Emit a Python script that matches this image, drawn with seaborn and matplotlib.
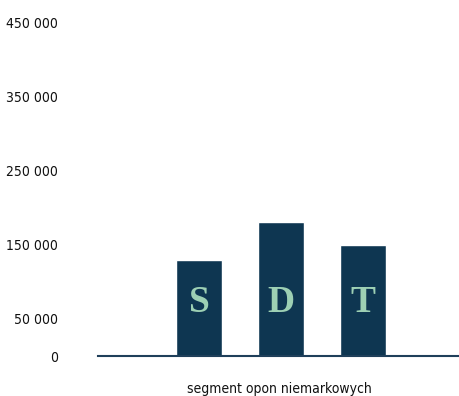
import matplotlib
matplotlib.use("Agg")
import matplotlib.pyplot as plt
import seaborn as sns
import pandas as pd

# chart data
segments = ["S", "D", "T"]
values = [130000, 180000, 150000]
y_ticks = [0, 50000, 150000, 250000, 350000, 450000]
y_labels = ["0", "50 000", "150 000", "250 000", "350 000", "450 000"]
x_title = "segment opon niemarkowych"

BAR = "#0e3651"
LETTER = "#9dd0b4"

sns.set_style("white")
plt.rcParams["font.family"] = ["DejaVu Sans"]
plt.rcParams["font.stretch"] = "condensed"

df = pd.DataFrame({"segment": segments, "value": values})

fig = plt.figure(figsize=(4.6, 3.96), dpi=100)
ax = fig.add_axes([98 / 460, 40 / 396, 362 / 460, 334 / 396])

sns.barplot(data=df, x="segment", y="value", color=BAR, width=0.56,
            saturation=1, ax=ax)

for i, s in enumerate(segments):
    ax.text(i, 72000, s, ha="center", va="center", color=LETTER,
            fontsize=27, fontweight="bold", family="Liberation Serif",
            fontstretch="normal")

ax.set_ylim(0, 450000)
ax.set_xlim(-1.235, 3.19)
ax.set_yticks(y_ticks)
ax.set_yticklabels(y_labels, fontsize=10, color="#111111")
ax.set_xticks([])
ax.tick_params(axis="y", length=0, pad=29)
ax.set_ylabel("")
ax.set_xlabel(x_title, fontsize=10, labelpad=19, color="#111111")

for side in ["top", "right", "left"]:
    ax.spines[side].set_visible(False)
ax.spines["bottom"].set_color("#1f3f5a")
ax.spines["bottom"].set_linewidth(1.5)

fig.savefig("out.png", dpi=100)
